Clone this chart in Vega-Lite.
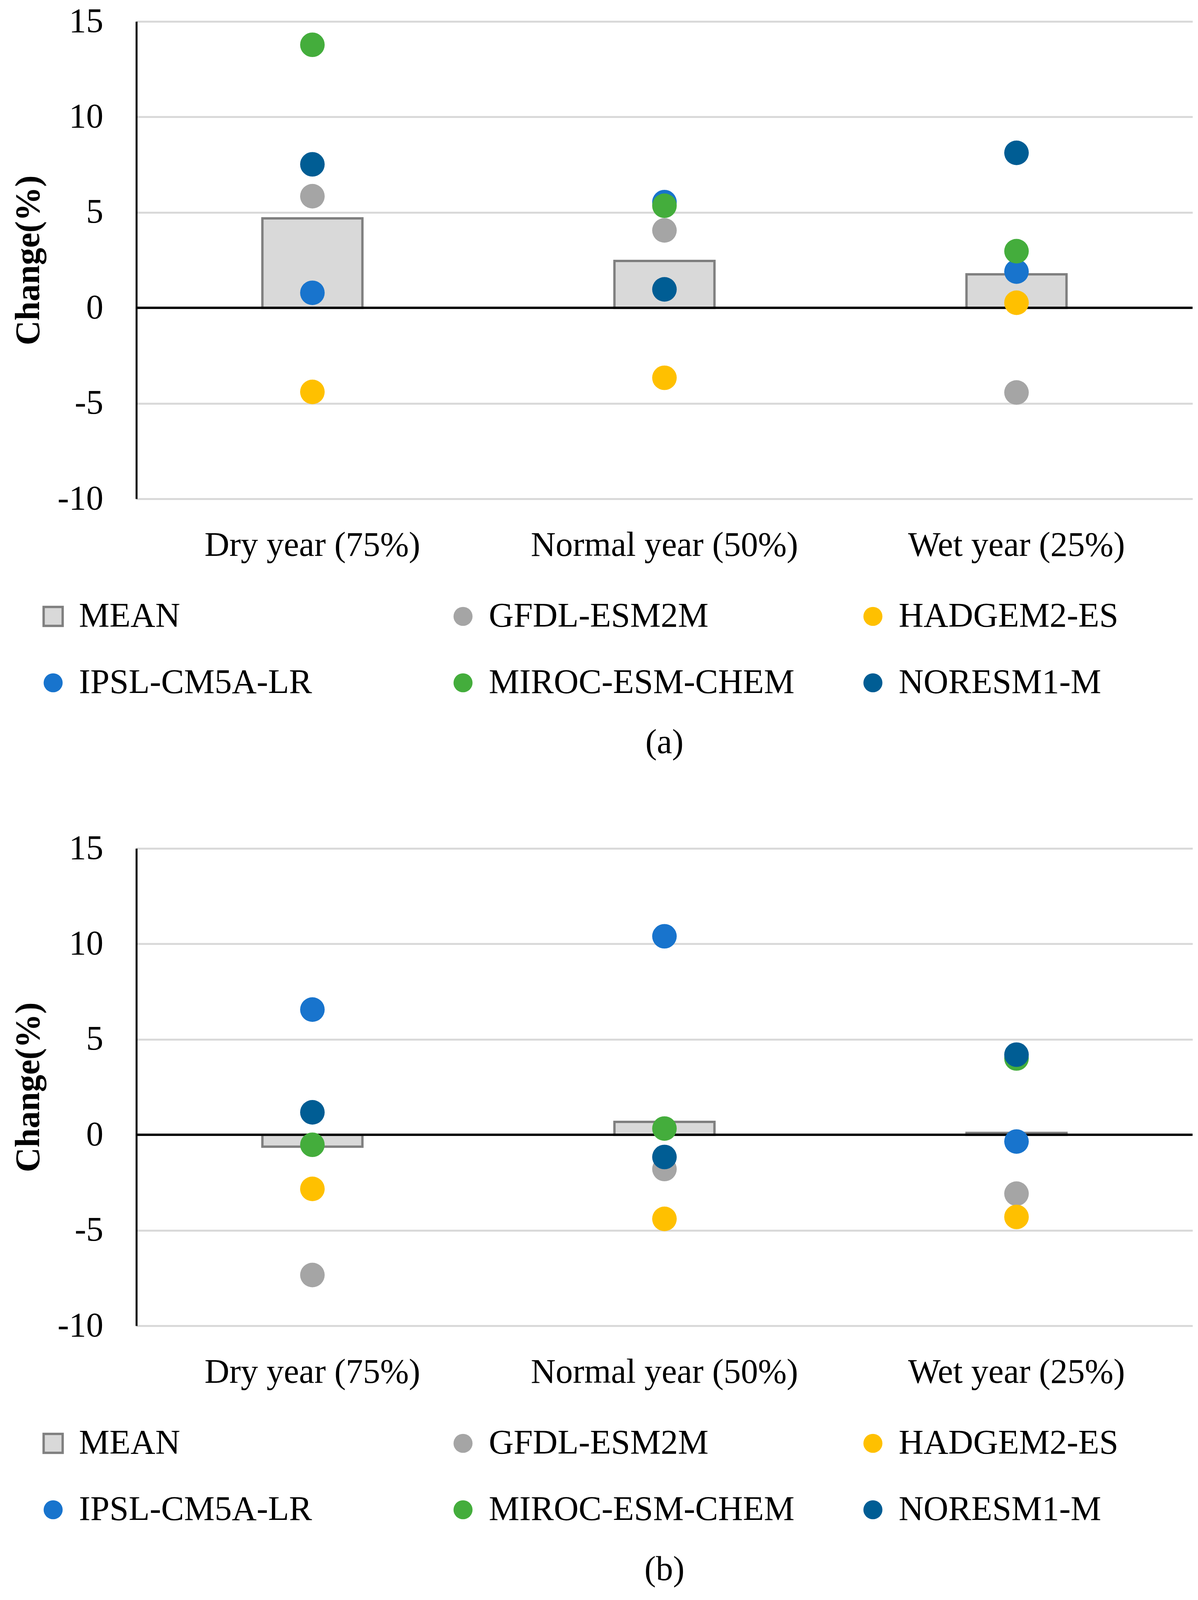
{
  "$schema": "https://vega.github.io/schema/vega-lite/v6.json",
  "background": "white",
  "padding": {"left": 29, "top": 11, "right": 10, "bottom": 10},
  "config": {
    "font": "Liberation Serif",
    "view": {"stroke": null},
    "axis": {"labelColor": "black", "titleColor": "black", "labelFont": "Liberation Serif", "titleFont": "Liberation Serif", "labelLimit": 0},
    "legend": {"labelColor": "black", "labelFont": "Liberation Serif", "labelLimit": 0},
    "title": {"font": "Liberation Serif", "color": "black"}
  },
  "data": {"values": [
    {"panel": "a", "period": "Dry year (75%)", "model": "MEAN", "value": 4.69},
    {"panel": "a", "period": "Dry year (75%)", "model": "GFDL-ESM2M", "value": 5.85},
    {"panel": "a", "period": "Dry year (75%)", "model": "HADGEM2-ES", "value": -4.4},
    {"panel": "a", "period": "Dry year (75%)", "model": "IPSL-CM5A-LR", "value": 0.79},
    {"panel": "a", "period": "Dry year (75%)", "model": "MIROC-ESM-CHEM", "value": 13.78},
    {"panel": "a", "period": "Dry year (75%)", "model": "NORESM1-M", "value": 7.52},
    {"panel": "a", "period": "Normal year (50%)", "model": "MEAN", "value": 2.46},
    {"panel": "a", "period": "Normal year (50%)", "model": "GFDL-ESM2M", "value": 4.06},
    {"panel": "a", "period": "Normal year (50%)", "model": "HADGEM2-ES", "value": -3.66},
    {"panel": "a", "period": "Normal year (50%)", "model": "IPSL-CM5A-LR", "value": 5.54},
    {"panel": "a", "period": "Normal year (50%)", "model": "MIROC-ESM-CHEM", "value": 5.35},
    {"panel": "a", "period": "Normal year (50%)", "model": "NORESM1-M", "value": 0.97},
    {"panel": "a", "period": "Wet year (25%)", "model": "MEAN", "value": 1.76},
    {"panel": "a", "period": "Wet year (25%)", "model": "GFDL-ESM2M", "value": -4.43},
    {"panel": "a", "period": "Wet year (25%)", "model": "HADGEM2-ES", "value": 0.27},
    {"panel": "a", "period": "Wet year (25%)", "model": "IPSL-CM5A-LR", "value": 1.9},
    {"panel": "a", "period": "Wet year (25%)", "model": "MIROC-ESM-CHEM", "value": 2.97},
    {"panel": "a", "period": "Wet year (25%)", "model": "NORESM1-M", "value": 8.12},
    {"panel": "b", "period": "Dry year (75%)", "model": "MEAN", "value": -0.62},
    {"panel": "b", "period": "Dry year (75%)", "model": "GFDL-ESM2M", "value": -7.34},
    {"panel": "b", "period": "Dry year (75%)", "model": "HADGEM2-ES", "value": -2.83},
    {"panel": "b", "period": "Dry year (75%)", "model": "IPSL-CM5A-LR", "value": 6.56},
    {"panel": "b", "period": "Dry year (75%)", "model": "MIROC-ESM-CHEM", "value": -0.52},
    {"panel": "b", "period": "Dry year (75%)", "model": "NORESM1-M", "value": 1.18},
    {"panel": "b", "period": "Normal year (50%)", "model": "MEAN", "value": 0.68},
    {"panel": "b", "period": "Normal year (50%)", "model": "GFDL-ESM2M", "value": -1.79},
    {"panel": "b", "period": "Normal year (50%)", "model": "HADGEM2-ES", "value": -4.4},
    {"panel": "b", "period": "Normal year (50%)", "model": "IPSL-CM5A-LR", "value": 10.4},
    {"panel": "b", "period": "Normal year (50%)", "model": "MIROC-ESM-CHEM", "value": 0.33},
    {"panel": "b", "period": "Normal year (50%)", "model": "NORESM1-M", "value": -1.16},
    {"panel": "b", "period": "Wet year (25%)", "model": "MEAN", "value": 0.1},
    {"panel": "b", "period": "Wet year (25%)", "model": "GFDL-ESM2M", "value": -3.08},
    {"panel": "b", "period": "Wet year (25%)", "model": "HADGEM2-ES", "value": -4.3},
    {"panel": "b", "period": "Wet year (25%)", "model": "IPSL-CM5A-LR", "value": -0.35},
    {"panel": "b", "period": "Wet year (25%)", "model": "MIROC-ESM-CHEM", "value": 4.0},
    {"panel": "b", "period": "Wet year (25%)", "model": "NORESM1-M", "value": 4.2}
  ]},
  "spacing": 182,
  "resolve": {"scale": {"color": "independent", "shape": "independent", "x": "independent", "y": "independent"}, "legend": {"color": "independent", "shape": "independent"}},
  "vconcat": [
    {
      "width": 2703, "height": 1222,
      "title": {"text": "(a)", "orient": "bottom", "offset": 66, "anchor": "middle", "fontSize": 88, "fontWeight": "normal"},
      "transform": [{"filter": "datum.panel === 'a'"}],
      "layer": [
        {
          "transform": [{"filter": "datum.model === 'MEAN'"}],
          "mark": {"type": "bar", "size": 256, "fill": "#d9d9d9", "stroke": "#7f7f7f", "strokeWidth": 6},
          "encoding": {
            "x": {"field": "period", "type": "nominal", "sort": ["Dry year (75%)", "Normal year (50%)", "Wet year (25%)"], "scale": {"paddingInner": 0, "paddingOuter": 0},
                  "axis": {"title": null, "labelAngle": 0, "domain": false, "ticks": false, "grid": false, "labelPadding": 75, "labelFontSize": 88, "labelLimit": 0}},
            "y": {"field": "value", "type": "quantitative", "scale": {"domain": [-10, 15], "nice": false, "zero": false},
                  "axis": {"title": "Change(%)", "values": [-10, -5, 0, 5, 10, 15], "labelExpr": "'' + datum.value", "grid": true, "gridColor": "#d9d9d9", "gridWidth": 5, "domainColor": "black", "domainWidth": 5, "ticks": false, "labelPadding": 85, "labelFontSize": 88, "titleFontSize": 88, "titleFontWeight": "bold", "titlePadding": 32}}
          }
        },
        {"mark": {"type": "rule", "color": "black", "strokeWidth": 5}, "encoding": {"y": {"datum": 0}}},
        {
          "transform": [{"filter": "datum.model !== 'MEAN'"}],
          "mark": {"type": "point", "filled": true, "opacity": 1, "size": 3950},
          "encoding": {
            "x": {"field": "period", "type": "nominal", "sort": ["Dry year (75%)", "Normal year (50%)", "Wet year (25%)"]},
            "y": {"field": "value", "type": "quantitative"},
            "color": {"field": "model", "type": "nominal",
              "scale": {"domain": ["MEAN", "GFDL-ESM2M", "HADGEM2-ES", "IPSL-CM5A-LR", "MIROC-ESM-CHEM", "NORESM1-M"], "range": ["#d9d9d9", "#a5a5a5", "#ffc000", "#1874cd", "#44ad3c", "#005d94"]},
              "legend": {"orient": "none", "legendX": -257, "legendY": 1479, "columns": 3, "direction": "horizontal", "title": null, "labelFontSize": 88, "labelLimit": 0, "symbolSize": 2375, "symbolOpacity": 1, "labelOffset": 22, "columnPadding": 156, "rowPadding": 82, "gridAlign": "all",
                "encode": {"symbols": {"update": {"stroke": {"signal": "datum.value === 'MEAN' ? '#7f7f7f' : 'transparent'"}, "strokeWidth": {"value": 6}}}}}},
            "shape": {"field": "model", "type": "nominal",
              "scale": {"domain": ["MEAN", "GFDL-ESM2M", "HADGEM2-ES", "IPSL-CM5A-LR", "MIROC-ESM-CHEM", "NORESM1-M"], "range": ["square", "circle", "circle", "circle", "circle", "circle"]},
              "legend": {"orient": "none", "legendX": -257, "legendY": 1479, "columns": 3, "direction": "horizontal", "title": null, "labelFontSize": 88, "labelLimit": 0, "symbolSize": 2375, "symbolOpacity": 1, "labelOffset": 22, "columnPadding": 156, "rowPadding": 82, "gridAlign": "all",
                "encode": {"symbols": {"update": {"stroke": {"signal": "datum.value === 'MEAN' ? '#7f7f7f' : 'transparent'"}, "strokeWidth": {"value": 6}}}}}}
          }
        }
      ]
    },
    {
      "width": 2703, "height": 1222,
      "title": {"text": "(b)", "orient": "bottom", "offset": 66, "anchor": "middle", "fontSize": 88, "fontWeight": "normal"},
      "transform": [{"filter": "datum.panel === 'b'"}],
      "layer": [
        {
          "transform": [{"filter": "datum.model === 'MEAN'"}],
          "mark": {"type": "bar", "size": 256, "fill": "#d9d9d9", "stroke": "#7f7f7f", "strokeWidth": 6},
          "encoding": {
            "x": {"field": "period", "type": "nominal", "sort": ["Dry year (75%)", "Normal year (50%)", "Wet year (25%)"], "scale": {"paddingInner": 0, "paddingOuter": 0},
                  "axis": {"title": null, "labelAngle": 0, "domain": false, "ticks": false, "grid": false, "labelPadding": 75, "labelFontSize": 88, "labelLimit": 0}},
            "y": {"field": "value", "type": "quantitative", "scale": {"domain": [-10, 15], "nice": false, "zero": false},
                  "axis": {"title": "Change(%)", "values": [-10, -5, 0, 5, 10, 15], "labelExpr": "'' + datum.value", "grid": true, "gridColor": "#d9d9d9", "gridWidth": 5, "domainColor": "black", "domainWidth": 5, "ticks": false, "labelPadding": 85, "labelFontSize": 88, "titleFontSize": 88, "titleFontWeight": "bold", "titlePadding": 32}}
          }
        },
        {"mark": {"type": "rule", "color": "black", "strokeWidth": 5}, "encoding": {"y": {"datum": 0}}},
        {
          "transform": [{"filter": "datum.model !== 'MEAN'"}],
          "mark": {"type": "point", "filled": true, "opacity": 1, "size": 3950},
          "encoding": {
            "x": {"field": "period", "type": "nominal", "sort": ["Dry year (75%)", "Normal year (50%)", "Wet year (25%)"]},
            "y": {"field": "value", "type": "quantitative"},
            "color": {"field": "model", "type": "nominal",
              "scale": {"domain": ["MEAN", "GFDL-ESM2M", "HADGEM2-ES", "IPSL-CM5A-LR", "MIROC-ESM-CHEM", "NORESM1-M"], "range": ["#d9d9d9", "#a5a5a5", "#ffc000", "#1874cd", "#44ad3c", "#005d94"]},
              "legend": {"orient": "none", "legendX": -257, "legendY": 1479, "columns": 3, "direction": "horizontal", "title": null, "labelFontSize": 88, "labelLimit": 0, "symbolSize": 2375, "symbolOpacity": 1, "labelOffset": 22, "columnPadding": 156, "rowPadding": 82, "gridAlign": "all",
                "encode": {"symbols": {"update": {"stroke": {"signal": "datum.value === 'MEAN' ? '#7f7f7f' : 'transparent'"}, "strokeWidth": {"value": 6}}}}}},
            "shape": {"field": "model", "type": "nominal",
              "scale": {"domain": ["MEAN", "GFDL-ESM2M", "HADGEM2-ES", "IPSL-CM5A-LR", "MIROC-ESM-CHEM", "NORESM1-M"], "range": ["square", "circle", "circle", "circle", "circle", "circle"]},
              "legend": {"orient": "none", "legendX": -257, "legendY": 1479, "columns": 3, "direction": "horizontal", "title": null, "labelFontSize": 88, "labelLimit": 0, "symbolSize": 2375, "symbolOpacity": 1, "labelOffset": 22, "columnPadding": 156, "rowPadding": 82, "gridAlign": "all",
                "encode": {"symbols": {"update": {"stroke": {"signal": "datum.value === 'MEAN' ? '#7f7f7f' : 'transparent'"}, "strokeWidth": {"value": 6}}}}}}
          }
        }
      ]
    }
  ]
}
